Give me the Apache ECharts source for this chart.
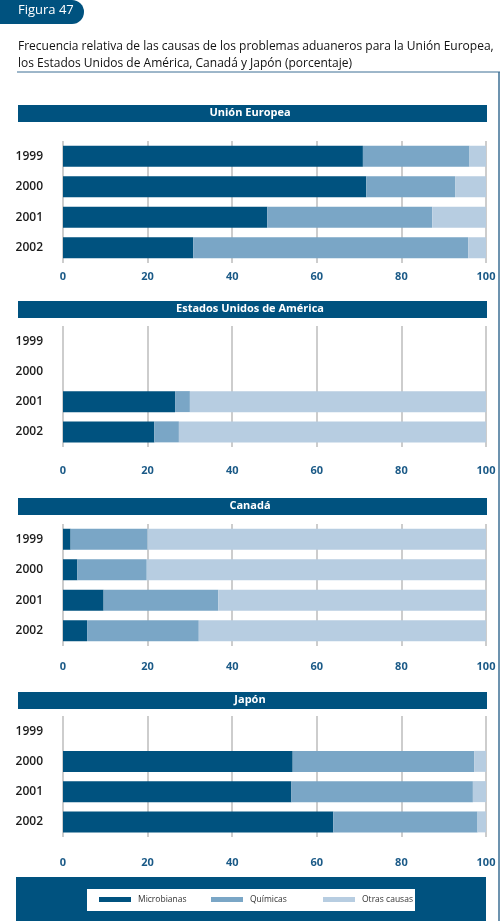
<!DOCTYPE html>
<html>
<head>
<meta charset="utf-8">
<title>Figura 47</title>
<script src="https://cdn.jsdelivr.net/npm/echarts@6/dist/echarts.min.js"></script>
<style>
    html, body { margin: 0; padding: 0; background: #fff; }
    #bars_customs { width: 500px; height: 921px; }
</style>
</head>
<body>
<div id="bars_customs"></div>
<script>

// Data
// ------------------------------

var years = ['1999', '2000', '2001', '2002'];
var causes = ['Microbianas', 'Químicas', 'Otras causas'];
var ticks = [0, 20, 40, 60, 80, 100];

var ueMicro = [70.9, 71.7, 48.3, 30.8];
var ueQuim = [25.2, 21.0, 39.0, 65.0];
var ueOtras = [3.9, 7.3, 12.7, 4.2];

var usaMicro = [null, null, 26.5, 21.6];
var usaQuim = [null, null, 3.5, 5.8];
var usaOtras = [null, null, 70.0, 72.6];

var canMicro = [1.8, 3.4, 9.6, 5.7];
var canQuim = [18.2, 16.4, 27.1, 26.4];
var canOtras = [80.0, 80.2, 63.3, 67.9];

var japMicro = [null, 54.3, 54.0, 63.9];
var japQuim = [null, 42.9, 42.9, 34.1];
var japOtras = [null, 2.8, 3.1, 2.0];


// Setup module
// ------------------------------

var EchartsCustomsBars = function() {

    var _customsBars = function() {
        if (typeof echarts == 'undefined') {
            console.warn('Warning - echarts.min.js is not loaded.');
            return;
        }

        // Define element
        var bars_element = document.getElementById('bars_customs');
        if (!bars_element) return;

        var font = '"Open Sans", "Noto Sans", sans-serif';
        var dark = '#00527f';
        var colors = ['#00527f', '#7aa6c6', '#b7cde1'];

        // One entry per panel
        var panels = [
            {name: 'Unión Europea', data: [ueMicro, ueQuim, ueOtras], top: 141, height: 122, head: 105, margin: 8},
            {name: 'Estados Unidos de América', data: [usaMicro, usaQuim, usaOtras], top: 326, height: 121, head: 301, margin: 18},
            {name: 'Canadá', data: [canMicro, canQuim, canOtras], top: 524, height: 122, head: 498, margin: 15},
            {name: 'Japón', data: [japMicro, japQuim, japOtras], top: 716, height: 121, head: 692, margin: 20}
        ];

        var grid = [], xAxis = [], yAxis = [], series = [];
        var graphic = [
            // Figure tab
            {type: 'rect', left: 0, top: 0, shape: {width: 84, height: 24, r: [0, 12, 12, 0]}, style: {fill: dark}},
            {type: 'text', left: 18, top: 4, style: {text: 'Figura 47', fill: '#fff', font: '13px ' + font}},

            // Title
            {type: 'text', left: 18, top: 38, style: {
                text: 'Frecuencia relativa de las causas de los problemas aduaneros para la Unión Europea,\nlos Estados Unidos de América, Canadá y Japón (porcentaje)',
                fill: '#111', font: '12px ' + font, lineHeight: 17
            }},
            {type: 'line', shape: {x1: 17, y1: 72, x2: 500, y2: 72}, style: {stroke: '#3d6f94', lineWidth: 1}},
            {type: 'line', shape: {x1: 499, y1: 72, x2: 499, y2: 921}, style: {stroke: '#3d6f94', lineWidth: 1.5}},

            // Legend background
            {type: 'rect', left: 16, top: 877, shape: {width: 470, height: 44}, style: {fill: dark}},
            {type: 'rect', left: 87, top: 889, shape: {width: 328, height: 22}, style: {fill: '#fff'}}
        ];

        panels.forEach(function(p, i) {
            grid.push({left: 63, right: 14, top: p.top, height: p.height});

            xAxis.push({
                type: 'value', gridIndex: i, min: 0, max: 100, interval: 20,
                axisLine: {show: false}, axisTick: {show: false},
                splitLine: {lineStyle: {color: '#bdbdbd', width: 1.5}},
                axisLabel: {color: '#1b5a87', fontWeight: 'bold', fontSize: 11, fontFamily: font, margin: p.margin,
                    formatter: function(v) { return ticks.indexOf(v) > -1 ? String(v) : ''; }}
            });

            yAxis.push({
                type: 'category', gridIndex: i, data: years, inverse: true,
                axisLine: {show: false}, axisTick: {show: false},
                axisLabel: {color: '#1a1a1a', fontWeight: 600, fontSize: 12, fontFamily: font, margin: 20}
            });

            causes.forEach(function(c, k) {
                series.push({
                    name: c, type: 'bar', stack: 'p' + i,
                    xAxisIndex: i, yAxisIndex: i,
                    barWidth: 21,
                    itemStyle: {color: colors[k]},
                    data: p.data[k]
                });
            });

            // Panel header
            graphic.push({type: 'rect', left: 18, top: p.head, shape: {width: 469, height: 17}, style: {fill: dark}});
            graphic.push({type: 'text', left: 'center', top: p.head + 2, style: {
                text: p.name, fill: '#fff', font: 'bold 11px ' + font
            }});
        });

        // One legend per cause, spaced evenly
        var legend = causes.map(function(c, k) {
            return {
                data: [c],
                left: 99 + k * 112,
                top: 895,
                itemWidth: 32,
                itemHeight: 5,
                icon: 'rect',
                padding: 0,
                selectedMode: false,
                textStyle: {fontSize: 8.5, color: '#333', padding: [0, 0, 0, 2]}
            };
        });

        // Initialize chart
        var bars_chart = echarts.init(bars_element, null, {renderer: 'canvas'});

        // Options
        bars_chart.setOption({
            animation: false,
            color: colors,
            textStyle: {fontFamily: font},
            grid: grid,
            xAxis: xAxis,
            yAxis: yAxis,
            legend: legend,
            graphic: graphic,
            series: series
        });
    };

    return {
        init: function() {
            _customsBars();
        }
    }
}();


// Initialize module
// ------------------------------

document.addEventListener('DOMContentLoaded', function() {
    EchartsCustomsBars.init();
});
</script>
</body>
</html>
